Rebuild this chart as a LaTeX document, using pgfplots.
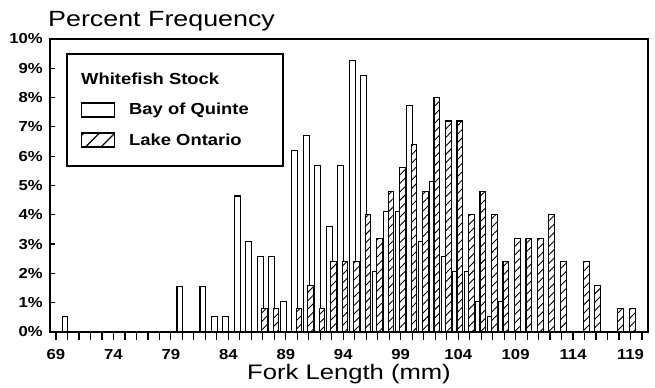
\documentclass[border=0pt]{standalone}
\usepackage{fontspec}
\setmainfont{Liberation Sans}[FakeStretch=1.15]
\newfontfamily\ttlfont{Liberation Sans}[FakeStretch=1.22]
\usepackage{pgfplots}
\pgfplotsset{compat=1.18}
\usetikzlibrary{patterns.meta}
\begin{document}
\begin{tikzpicture}
\begin{axis}[
  name=ax,
  scale only axis, width=598pt, height=293pt,
  xmin=68.48, xmax=120.52, ymin=0, ymax=10,
  axis line style={line width=1.6pt},
  ytick={0,...,10},
  yticklabels={0\%,1\%,2\%,3\%,4\%,5\%,6\%,7\%,8\%,9\%,10\%},
  xtick={69,74,...,119},
  xticklabels={69,74,79,84,89,94,99,104,109,114,119},
  minor xtick={69,...,120},
  tick align=inside,
  major tick length=5pt, minor tick length=8pt,
  tick style={line width=1.2pt, black},
  extra x ticks={69,74,...,119},
  extra x tick labels={},
  extra x tick style={tick align=outside, major tick length=4pt},
  xtick pos=bottom, ytick pos=left,
  /pgf/number format/assume math mode=true,
  ticklabel style={font=\bfseries\fontsize{14.5}{17}\selectfont},
  yticklabel style={anchor=east, inner sep=0pt, xshift=-7pt},
  xticklabel style={anchor=base, inner sep=0pt, yshift=-23pt},
  title={\ttlfont Percent Frequency},
  title style={at={(axis description cs:0,1)}, anchor=base west, inner sep=0pt, xshift=-2pt, yshift=6pt, font=\fontsize{22}{25}\selectfont},
  xlabel={\ttlfont Fork Length (mm)},
  xlabel style={at={(axis description cs:0.5,0)}, anchor=base, inner sep=0pt, yshift=-48pt, font=\fontsize{21}{24}\selectfont},
  ybar,
  legend style={at={(axis description cs:0.027,0.952)}, anchor=north west, draw=black, line width=1.5pt, fill=white,
    inner xsep=14pt, inner ysep=17.5pt, font=\bfseries\fontsize{16}{19}\selectfont, row sep=13pt,
    /tikz/every odd column/.append style={column sep=12pt}},
  legend cell align=left,
]
\addlegendimage{empty legend}
\addlegendentry{\hspace*{-48pt}Whitefish Stock}
\addplot[draw=black, fill=white, line width=1.1pt, bar width=0.5, bar shift=-0.22,
  legend image code/.code={\draw[line width=1.3pt, fill=white] (0pt,-7pt) rectangle (33pt,7pt);}]
  coordinates {(70,0.52) (80,1.55) (82,1.55) (83,0.52) (84,0.52) (85,4.64) (86,3.09) (87,2.58) (88,2.58) (89,1.03)
  (90,6.19) (91,6.70) (92,5.67) (93,3.61) (94,5.67) (95,9.28) (96,8.76) (97,2.06) (98,4.12) (99,4.12)
  (100,7.73) (101,3.09) (102,5.15) (103,2.58) (104,2.06) (105,2.06) (106,1.03) (107,0.52) (108,1.03)};
\addlegendentry{Bay of Quinte\hspace*{18pt}}
\addplot[draw=black, line width=1.1pt, preaction={fill=white}, pattern={Lines[angle=45,distance=6pt,line width=0.9pt]},
  bar width=0.5, bar shift=0.15,
  legend image code/.code={\draw[line width=1.3pt, fill=white] (0pt,-7pt) rectangle (33pt,7pt);
     \draw[line width=1.3pt, pattern={Lines[angle=45,distance=11pt,line width=1.3pt]}] (0pt,-7pt) rectangle (33pt,7pt);}]
  coordinates {(87,0.8) (88,0.8) (90,0.8) (91,1.6) (92,0.8) (93,2.4) (94,2.4) (95,2.4) (96,4.0) (97,3.2)
  (98,4.8) (99,5.6) (100,6.4) (101,4.8) (102,8.0) (103,7.2) (104,7.2) (105,4.0) (106,4.8) (107,4.0)
  (108,2.4) (109,3.2) (110,3.2) (111,3.2) (112,4.0) (113,2.4) (115,2.4) (116,1.6) (118,0.8) (119,0.8)};
\addlegendentry{Lake Ontario}
\end{axis}
\pgfresetboundingbox
\path ([xshift=-50pt,yshift=-56pt]ax.south west) rectangle ([xshift=7pt,yshift=39pt]ax.north east);
\end{tikzpicture}
\end{document}
